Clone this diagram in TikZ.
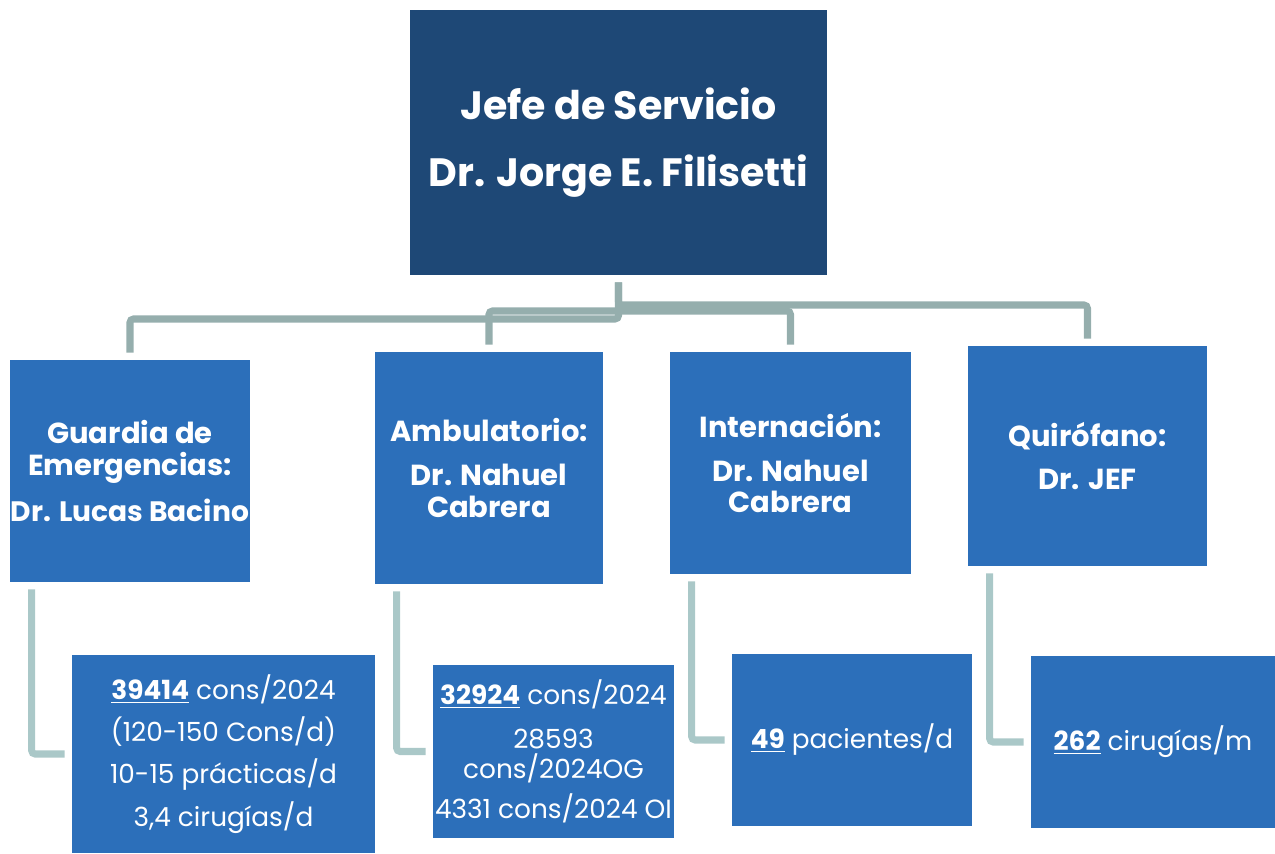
\documentclass[tikz,border=0pt]{standalone}
\usepackage{fontspec}
\setmainfont{Poppins}
\usetikzlibrary{positioning,calc}
\definecolor{jefeblue}{RGB}{30,72,118}
\definecolor{areablue}{RGB}{44,111,186}
\definecolor{linkgray}{RGB}{149,174,173}
\definecolor{sublinkgray}{RGB}{170,200,200}
\tikzset{
	box/.style 2 args={draw=none,fill=areablue,text=white,align=center,inner sep=0pt,
		minimum width=#1*0.02cm,minimum height=#2*0.02cm},
	head/.style={font=\bfseries\fontsize{16.5}{18}\selectfont},
	stat/.style={font=\fontsize{15}{17}\selectfont},
	link/.style={draw=linkgray,line width=4pt,rounded corners=2pt},
	sublink/.style={draw=sublinkgray,line width=4pt,rounded corners=2pt,shorten <=4pt,shorten >=4pt}
}

\begin{document}
\begin{tikzpicture}[x=0.02cm,y=-0.02cm]
	\useasboundingbox (0,0) rectangle (1275,853);
	\def \off {22}
	
	\node[box={417}{265},fill=jefeblue,font=\bfseries\fontsize{22.5}{38}\selectfont] (jefe) at (618.5,142.5)
		{Jefe de Servicio\\Dr. Jorge E. Filisetti};
	
	\node[box={240}{222},head] (guardia) at (130,471)
		{Guardia de\\Emergencias:\\[8pt]{\fontsize{16}{18}\selectfont Dr. Lucas Bacino}};
	\node[box={228}{232},head] (ambul) at (489,468) {Ambulatorio:\\[7pt]Dr. Nahuel\\Cabrera};
	\node[box={241}{222},head] (intern) at (790.5,463) {Internación:\\[7pt]Dr. Nahuel\\Cabrera};
	\node[box={239}{220},head] (quiro) at (1087.5,456) {Quirófano:\\[7pt]Dr. JEF};
	
	\node[box={303}{198},stat,font=\fontsize{15}{24}\selectfont] (guardiaStat) at (223.5,754)
		{\underline{\textbf{39414}} cons/2024\\(120-150 Cons/d)\\10-15 prácticas/d\\3,4 cirugías/d};
	\node[box={241}{173},stat] (ambulStat) at (553.5,751.5)
		{\underline{\textbf{32924}} cons/2024\\[8pt]28593\\cons/2024OG\\[6pt]4331 cons/2024 OI};
	\node[box={240}{172},stat] (internStat) at (852,740) {\underline{\textbf{49}} pacientes/d};
	\node[box={244}{172},stat] (quiroStat) at (1153,742) {\underline{\textbf{262}} cirugías/m};
	
	\coordinate (barL) at (0,319);
	\coordinate (barM) at (0,311);
	\coordinate (barR) at (0,305);
	
	\draw[link,shorten <=4pt,shorten >=4pt] (jefe.south) -- (jefe.south |- barL) -| (guardia.north);
	\draw[link,shorten <=4pt,shorten >=4pt] (jefe.south) -- (jefe.south |- barR) -| (quiro.north);
	\draw[link,shorten <=4pt,shorten >=4pt] (ambul.north) -- (ambul.north |- barM) -| (intern.north);
	
	\draw[sublink] ($(guardia.south west)+(\off,0)$) |- (guardiaStat.west);
	\draw[sublink] ($(ambul.south west)+(\off,0)$) |- (ambulStat.west);
	\draw[sublink] ($(intern.south west)+(\off,0)$) |- (internStat.west);
	\draw[sublink] ($(quiro.south west)+(\off,0)$) |- (quiroStat.west);
\end{tikzpicture}
\end{document}
